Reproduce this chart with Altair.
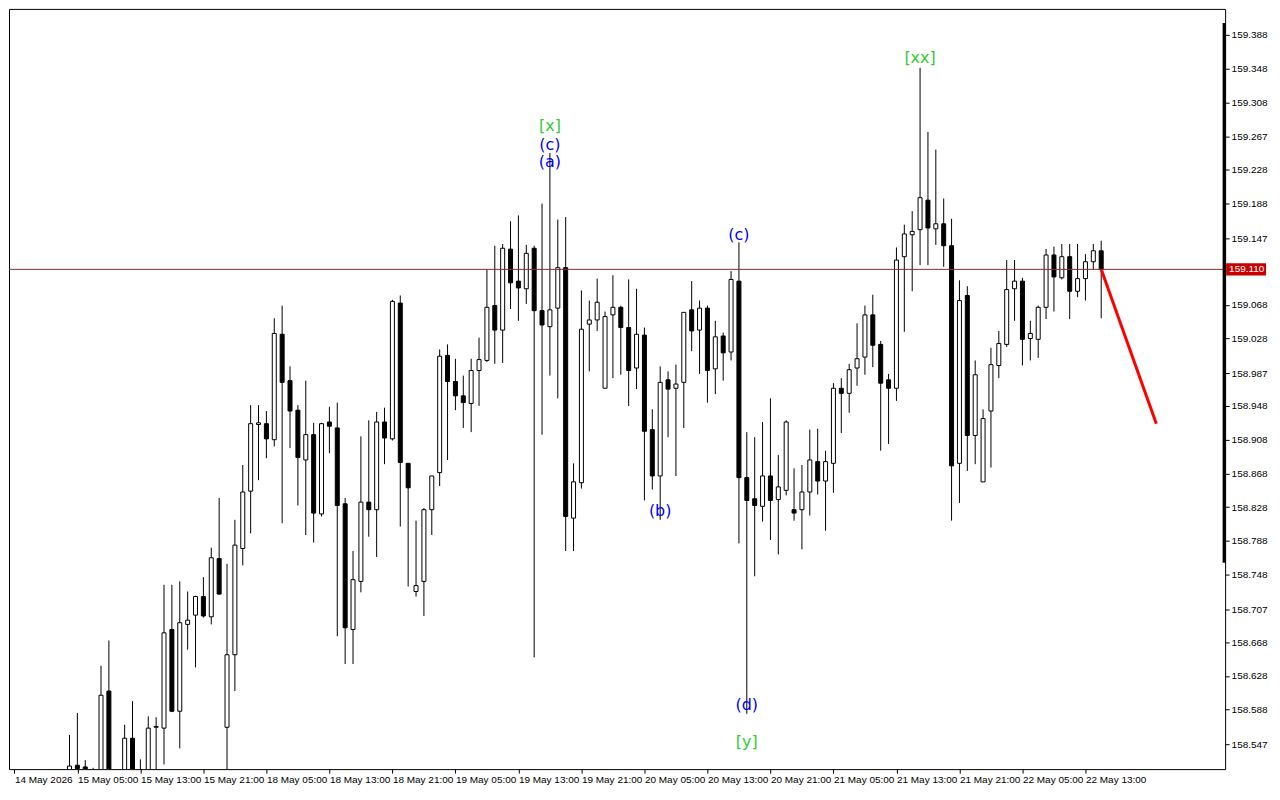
import json
import altair as alt
import pandas as pd

# ---------------- data (USDJPY-style H1 candles) ----------------
opens = [
    158.500, 158.522, 158.520, 158.508, 158.509, 158.610, 158.490, 158.500, 158.554, 158.490,
    158.500, 158.567, 158.566, 158.683, 158.586, 158.689, 158.700, 158.722, 158.698, 158.767,
    158.567, 158.653, 158.779, 158.847, 158.926, 158.927, 158.908, 159.033, 158.978, 158.943,
    158.884, 158.914, 158.820, 158.929, 158.922, 158.832, 158.683, 158.740, 158.834, 158.825,
    158.929, 158.909, 159.070, 158.880, 158.728, 158.740, 158.825, 158.869, 159.008, 158.977,
    158.960, 158.951, 158.990, 159.002, 159.067, 159.038, 159.134, 159.096, 159.087, 159.135,
    159.061, 159.042, 159.064, 159.112, 158.815, 158.857, 159.045, 159.050, 158.969, 159.056,
    159.065, 159.041, 158.993, 159.032, 158.920, 158.865, 158.979, 158.969, 158.976, 159.062,
    159.038, 159.064, 158.992, 159.031, 159.012, 159.096, 158.863, 158.838, 158.829, 158.865,
    158.837, 158.848, 158.825, 158.825, 158.846, 158.882, 158.859, 158.880, 158.969, 158.963,
    158.993, 159.006, 159.056, 159.021, 158.979, 158.969, 159.125, 159.151, 159.157, 159.192,
    159.158, 159.164, 159.138, 158.880, 159.079, 158.913, 158.858, 158.942, 158.996, 159.021,
    159.087, 159.096, 159.028, 159.027, 159.065, 159.127, 159.100, 159.125, 159.084, 159.099,
    159.119, 159.132,
]
highs = [
    158.558, 158.584, 158.528, 158.519, 158.640, 158.670, 158.500, 158.570, 158.598, 158.529,
    158.580, 158.579, 158.736, 158.736, 158.740, 158.728, 158.723, 158.745, 158.780, 158.839,
    158.761, 158.813, 158.878, 158.949, 158.949, 158.942, 159.052, 159.067, 158.995, 158.949,
    158.978, 158.928, 158.928, 158.947, 158.952, 158.839, 158.776, 158.912, 158.931, 158.941,
    158.946, 159.074, 159.079, 158.880, 158.812, 158.827, 158.865, 159.015, 159.021, 159.004,
    158.984, 159.004, 159.029, 159.110, 159.138, 159.140, 159.167, 159.174, 159.139, 159.138,
    159.188, 159.248, 159.169, 159.172, 158.880, 159.085, 159.073, 159.099, 159.060, 159.103,
    159.067, 159.098, 159.087, 159.041, 158.944, 158.995, 158.989, 158.997, 159.059, 159.096,
    159.073, 159.067, 159.049, 159.035, 159.108, 159.142, 158.917, 158.911, 158.929, 158.957,
    158.890, 158.931, 158.874, 158.878, 158.920, 158.921, 158.895, 158.975, 158.981, 158.998,
    159.046, 159.067, 159.080, 159.025, 158.986, 159.136, 159.163, 159.179, 159.349, 159.273,
    159.252, 159.194, 159.170, 159.097, 159.090, 159.002, 158.944, 159.017, 159.037, 159.121,
    159.121, 159.100, 159.049, 159.067, 159.134, 159.137, 159.140, 159.140, 159.140, 159.128,
    159.140, 159.144,
]
lows = [
    158.480, 158.500, 158.490, 158.505, 158.505, 158.490, 158.470, 158.490, 158.490, 158.460,
    158.490, 158.500, 158.523, 158.585, 158.542, 158.659, 158.638, 158.697, 158.689, 158.724,
    158.507, 158.610, 158.759, 158.797, 158.860, 158.886, 158.900, 158.809, 158.898, 158.830,
    158.795, 158.786, 158.817, 158.892, 158.675, 158.642, 158.642, 158.727, 158.793, 158.769,
    158.879, 158.907, 158.805, 158.734, 158.722, 158.699, 158.795, 158.853, 158.884, 158.943,
    158.922, 158.917, 158.948, 159.000, 158.998, 158.999, 159.063, 159.049, 159.069, 158.650,
    158.914, 158.984, 158.957, 158.776, 158.776, 158.850, 158.989, 159.037, 158.969, 158.981,
    158.985, 158.948, 158.968, 158.836, 158.849, 158.813, 158.911, 158.865, 158.922, 159.013,
    158.986, 158.952, 158.962, 158.978, 159.002, 158.785, 158.583, 158.746, 158.811, 158.789,
    158.772, 158.842, 158.812, 158.778, 158.818, 158.843, 158.800, 158.845, 158.916, 158.940,
    158.972, 158.985, 158.994, 158.895, 158.903, 158.954, 159.036, 159.084, 159.115, 159.115,
    159.139, 159.113, 158.812, 158.833, 158.871, 158.879, 158.858, 158.875, 158.981, 159.018,
    159.049, 158.996, 159.002, 159.005, 159.051, 159.060, 159.098, 159.051, 159.077, 159.073,
    159.110, 159.052,
]
closes = [
    158.521, 158.518, 158.500, 158.512, 158.605, 158.500, 158.480, 158.554, 158.500, 158.480,
    158.566, 158.568, 158.679, 158.586, 158.691, 158.694, 158.722, 158.699, 158.768, 158.725,
    158.653, 158.783, 158.846, 158.927, 158.928, 158.909, 159.034, 158.976, 158.942, 158.887,
    158.914, 158.821, 158.927, 158.924, 158.830, 158.685, 158.742, 158.834, 158.825, 158.929,
    158.910, 159.072, 158.881, 158.851, 158.735, 158.825, 158.865, 159.007, 158.977, 158.960,
    158.952, 158.990, 159.003, 159.065, 159.038, 159.135, 159.094, 159.088, 159.129, 159.061,
    159.044, 159.062, 159.112, 158.817, 158.858, 159.039, 159.050, 159.071, 159.054, 159.065,
    159.041, 158.990, 159.033, 158.918, 158.865, 158.976, 158.968, 158.974, 159.059, 159.037,
    159.064, 158.990, 159.030, 159.011, 159.098, 158.863, 158.836, 158.830, 158.865, 158.836,
    158.852, 158.929, 158.821, 158.846, 158.884, 158.859, 158.882, 158.969, 158.963, 158.991,
    159.004, 159.056, 159.020, 158.975, 158.969, 159.121, 159.152, 159.155, 159.195, 159.159,
    159.164, 159.138, 158.877, 159.073, 158.913, 158.985, 158.933, 158.997, 159.022, 159.086,
    159.096, 159.027, 159.034, 159.065, 159.127, 159.101, 159.125, 159.084, 159.099, 159.119,
    159.132, 159.110,
]

# x-axis tick labels (one every 8 hourly bars, first one 7 bars before the first candle)
x_tick_labels = [
    "14 May 2026", "15 May 05:00", "15 May 13:00", "15 May 21:00", "18 May 05:00",
    "18 May 13:00", "18 May 21:00", "19 May 05:00", "19 May 13:00", "19 May 21:00",
    "20 May 05:00", "20 May 13:00", "20 May 21:00", "21 May 05:00", "21 May 13:00",
    "21 May 21:00", "22 May 05:00", "22 May 13:00",
]
x_tick_pos = [-7 + 8 * j for j in range(len(x_tick_labels))]

y_tick_values = [
    159.388, 159.348, 159.308, 159.267, 159.228, 159.188, 159.147, 159.068, 159.028,
    158.987, 158.948, 158.908, 158.868, 158.828, 158.788, 158.748, 158.707, 158.668,
    158.628, 158.588, 158.547,
]

current_price = 159.110

# Elliott-wave style annotations
wave_text = ["[x]", "(c)", "(a)", "(b)", "(c)", "(d)", "[y]", "[xx]"]
wave_bar = [61, 61, 61, 75, 85, 86, 86, 108]
wave_price = [159.280, 159.258, 159.237, 158.824, 159.151, 158.594, 158.549, 159.360]
wave_color = ["#32CD32", "#0000FF", "#0000FF", "#0000FF", "#0000FF", "#0000FF", "#32CD32", "#32CD32"]

# forecast line
fc_bar = [131, 138]
fc_price = [159.110, 158.927]

# black marker bar on the right edge of the price scale
edge_bar_top = 159.402
edge_bar_bottom = 158.762

# ---------------- chart ----------------
W, H = 1219, 762
X_DOMAIN = [-7.05, 146.1]
Y_DOMAIN = [158.5174, 159.4188]
FONT = "Liberation Sans"

df = pd.DataFrame({"i": list(range(len(opens))), "open": opens, "high": highs,
                   "low": lows, "close": closes})
df["dir"] = ["up" if c >= o else "down" for o, c in zip(opens, closes)]

xs = alt.Scale(domain=X_DOMAIN, nice=False, zero=False)
ys = alt.Scale(domain=Y_DOMAIN, nice=False, zero=False)

label_expr = json.dumps(x_tick_labels) + "[round((datum.value + 7) / 8)]"
x_axis = alt.Axis(values=x_tick_pos, labelExpr=label_expr, labelAlign="left",
                  labelBaseline="top", labelPadding=1, tickSize=4, labelOverlap=False,
                  labelFlush=False, grid=False, domain=False, title=None)
y_axis = alt.Axis(values=y_tick_values, format=".3f", orient="right", tickSize=4,
                  labelPadding=2, grid=False, domain=False, labelOverlap=False,
                  labelBound=False, title=None)


def X(field):
    return alt.X(field, scale=xs, axis=x_axis, title=None)


def Y(field):
    return alt.Y(field, scale=ys, axis=y_axis, title=None)


base = alt.Chart(df)
wicks = base.mark_rule(color="black", strokeWidth=1, clip=True).encode(
    x=X("i:Q"), y=Y("low:Q"), y2="high:Q",
)
bodies = base.mark_bar(size=4, stroke="black", strokeWidth=1, clip=True).encode(
    x=X("i:Q"), y=Y("open:Q"), y2="close:Q",
    fill=alt.Fill("dir:N", scale=alt.Scale(domain=["up", "down"], range=["white", "black"]),
                  legend=None),
)

price_df = pd.DataFrame({"p": [current_price]})
price_line = alt.Chart(price_df).mark_rule(color="#7A3030", strokeWidth=1).encode(
    y=Y("p:Q")
)

fc_df = pd.DataFrame({"i": fc_bar, "p": fc_price})
forecast = alt.Chart(fc_df).mark_line(color="#FF0000", strokeWidth=3).encode(
    x=X("i:Q"), y=Y("p:Q")
)

wave_df = pd.DataFrame({"t": wave_text, "i": wave_bar, "p": wave_price, "c": wave_color})
waves = alt.Chart(wave_df).mark_text(font="DejaVu Sans", fontSize=16, baseline="middle",
                                     align="center").encode(
    x=X("i:Q"), y=Y("p:Q"), text="t:N",
    color=alt.Color("c:N", scale=None),
)

edge_df = pd.DataFrame({"a": [edge_bar_top], "b": [edge_bar_bottom]})
edge = alt.Chart(edge_df).mark_rule(color="black", strokeWidth=3).encode(
    x=alt.value(W - 1), y=Y("a:Q"), y2="b:Q"
)

tag_box = alt.Chart(price_df).transform_calculate(
    lo="datum.p - 0.0072", hi="datum.p + 0.0072"
).mark_rect(color="#C80000").encode(
    x=alt.value(W + 1), x2=alt.value(W + 41), y=Y("lo:Q"), y2="hi:Q"
)
tag_text = alt.Chart(price_df).mark_text(align="left", baseline="middle", color="white",
                                         font=FONT, fontSize=10).encode(
    x=alt.value(W + 4), y=Y("p:Q"), text=alt.Text("p:Q", format=".3f")
)

chart = alt.layer(
    wicks, bodies, price_line, forecast, waves, edge, tag_box, tag_text
).properties(
    width=W, height=H, padding={"left": 0, "top": 0, "right": 4, "bottom": 0},
    background="white",
).configure_view(
    stroke="black", strokeWidth=1
).configure_axis(
    labelFont=FONT, labelFontSize=10, labelColor="black", tickColor="black", tickWidth=1,
    labelOverlap=False
)

chart.save("out.html", embed_options={"renderer": "svg", "actions": False})
